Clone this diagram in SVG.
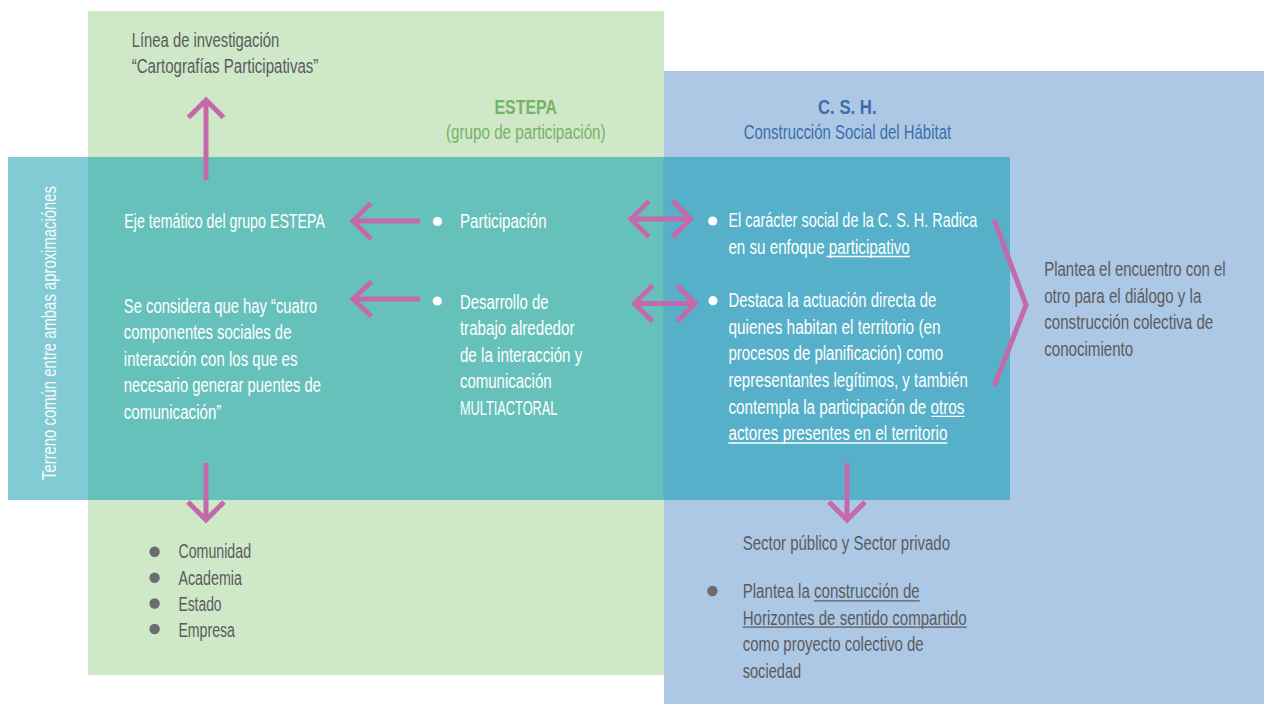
<svg xmlns="http://www.w3.org/2000/svg" width="1264" height="704" viewBox="0 0 1264 704">
<style>
text{font-family:"Liberation Sans Narrow","Liberation Sans",Arial,sans-serif;font-size:19.5px}
.w{fill:#ffffff}
.g{fill:#5a5b5e}
.hg{fill:#76b268}
.hb{fill:#3c6eaa}
.b{font-weight:bold;font-size:21px}
.arr{fill:none;stroke:#c36aac;stroke-width:5;stroke-linejoin:miter}
.ulw{stroke:#ffffff;stroke-width:1.3}
.ulg{stroke:#5a5b5e;stroke-width:1.3}
</style>
<rect width="1264" height="704" fill="#ffffff"/>
<g id="estepa-region">
<rect x="88" y="11" width="576" height="664" fill="#cfe8c7"/>
<text class="hg b" x="494.5" y="114" textLength="62.4" lengthAdjust="spacingAndGlyphs">ESTEPA</text>
<text class="hg" x="446" y="139" textLength="159.6" lengthAdjust="spacingAndGlyphs">(grupo de participación)</text>
</g>
<g id="csh-region">
<rect x="664" y="71" width="600" height="633" fill="#adc8e5"/>
<text class="hb b" x="818" y="114" textLength="58.6" lengthAdjust="spacingAndGlyphs">C. S. H.</text>
<text class="hb" x="743.7" y="139" textLength="207.4" lengthAdjust="spacingAndGlyphs">Construcción Social del Hábitat</text>
</g>
<g id="common-band">
<rect x="8" y="157" width="80" height="343" fill="#82cbd5"/>
<rect x="88" y="157" width="576" height="343" fill="#67c1bb"/>
<rect x="664" y="157" width="346" height="343" fill="#57b0c9"/>
<line x1="664" y1="157" x2="664" y2="500" stroke="#5aa9b3" stroke-width="1"/>
<text class="w" transform="translate(56,480) rotate(-90)" x="0" y="0" textLength="294" lengthAdjust="spacingAndGlyphs" fill-opacity="0.95">Terreno común entre ambas aproximaciónes</text>
</g>
<g id="linea-investigacion">
<text class="g" x="131.7" y="46.5" textLength="147.6" lengthAdjust="spacingAndGlyphs">Línea de investigación</text>
<text class="g" x="131.7" y="73" textLength="186.7" lengthAdjust="spacingAndGlyphs">“Cartografías Participativas”</text>
</g>
<g id="eje-tematico">
<text class="w" x="124.3" y="228" textLength="200.7" lengthAdjust="spacingAndGlyphs">Eje temático del grupo ESTEPA</text>
</g>
<g id="cuatro-componentes">
<text class="w" x="123.8" y="312.5" textLength="193.3" lengthAdjust="spacingAndGlyphs">Se considera que hay “cuatro</text>
<text class="w" x="123.8" y="339" textLength="167.6" lengthAdjust="spacingAndGlyphs">componentes sociales de</text>
<text class="w" x="123.8" y="365.7" textLength="173.6" lengthAdjust="spacingAndGlyphs">interacción con los que es</text>
<text class="w" x="123.8" y="392.3" textLength="197.3" lengthAdjust="spacingAndGlyphs">necesario generar puentes de</text>
<text class="w" x="123.8" y="419" textLength="97.6" lengthAdjust="spacingAndGlyphs">comunicación”</text>
</g>
<g id="participacion">
<circle cx="437.5" cy="221.5" r="4.6" fill="#ffffff"/>
<text class="w" x="460" y="227.5" textLength="86.6" lengthAdjust="spacingAndGlyphs">Participación</text>
</g>
<g id="desarrollo">
<circle cx="437.3" cy="301" r="4.6" fill="#ffffff"/>
<text class="w" x="459.9" y="308.5" textLength="88.6" lengthAdjust="spacingAndGlyphs">Desarrollo de</text>
<text class="w" x="459.9" y="335" textLength="114.6" lengthAdjust="spacingAndGlyphs">trabajo alrededor</text>
<text class="w" x="459.9" y="361.7" textLength="122.5" lengthAdjust="spacingAndGlyphs">de la interacción y</text>
<text class="w" x="459.9" y="388.3" textLength="91.7" lengthAdjust="spacingAndGlyphs">comunicación</text>
<text class="w" x="459.9" y="415" textLength="97.6" lengthAdjust="spacingAndGlyphs">MULTIACTORAL</text>
</g>
<g id="caracter-social">
<circle cx="712.7" cy="221" r="4.6" fill="#ffffff"/>
<text class="w" x="728.4" y="227.3" textLength="248.8" lengthAdjust="spacingAndGlyphs">El carácter social de la C. S. H. Radica</text>
<text class="w" x="728.4" y="254" textLength="181.4" lengthAdjust="spacingAndGlyphs">en su enfoque participativo</text>
<line class="ulw" x1="826.4" y1="256.5" x2="909.8" y2="256.5"/>
</g>
<g id="actuacion-directa">
<circle cx="713" cy="300.7" r="4.6" fill="#ffffff"/>
<text class="w" x="728.4" y="307" textLength="207.8" lengthAdjust="spacingAndGlyphs">Destaca la actuación directa de</text>
<text class="w" x="728.4" y="333.7" textLength="212.3" lengthAdjust="spacingAndGlyphs">quienes habitan el territorio (en</text>
<text class="w" x="728.4" y="360.3" textLength="214.6" lengthAdjust="spacingAndGlyphs">procesos de planificación) como</text>
<text class="w" x="728.4" y="387" textLength="239.5" lengthAdjust="spacingAndGlyphs">representantes legítimos, y también</text>
<text class="w" x="728.4" y="413.7" textLength="236.1" lengthAdjust="spacingAndGlyphs">contempla la participación de otros</text>
<text class="w" x="728.4" y="440.3" textLength="219" lengthAdjust="spacingAndGlyphs">actores presentes en el territorio</text>
<line class="ulw" x1="931.4" y1="416.3" x2="964.5" y2="416.3"/>
<line class="ulw" x1="728.4" y1="443" x2="947.4" y2="443"/>
</g>
<g id="encuentro">
<text class="g" x="1044.2" y="276" textLength="181.4" lengthAdjust="spacingAndGlyphs">Plantea el encuentro con el</text>
<text class="g" x="1044.2" y="302.7" textLength="157.2" lengthAdjust="spacingAndGlyphs">otro para el diálogo y la</text>
<text class="g" x="1044.2" y="329.3" textLength="169.1" lengthAdjust="spacingAndGlyphs">construcción colectiva de</text>
<text class="g" x="1044.2" y="356" textLength="89" lengthAdjust="spacingAndGlyphs">conocimiento</text>
</g>
<g id="componentes-lista">
<circle cx="154.6" cy="551.7" r="5.2" fill="#6c6c70"/>
<circle cx="154.6" cy="577.7" r="5.2" fill="#6c6c70"/>
<circle cx="154.6" cy="603.5" r="5.2" fill="#6c6c70"/>
<circle cx="154.6" cy="629" r="5.2" fill="#6c6c70"/>
<text class="g" x="178.4" y="558.3" textLength="72.7" lengthAdjust="spacingAndGlyphs">Comunidad</text>
<text class="g" x="178.4" y="584.7" textLength="63.5" lengthAdjust="spacingAndGlyphs">Academia</text>
<text class="g" x="178.4" y="611" textLength="43.2" lengthAdjust="spacingAndGlyphs">Estado</text>
<text class="g" x="178.4" y="637.3" textLength="56.6" lengthAdjust="spacingAndGlyphs">Empresa</text>
</g>
<g id="sectores">
<text class="g" x="742.7" y="550" textLength="207.3" lengthAdjust="spacingAndGlyphs">Sector público y Sector privado</text>
</g>
<g id="horizontes">
<circle cx="712.4" cy="591" r="5.2" fill="#6c6c70"/>
<text class="g" x="742.7" y="598.3" textLength="177" lengthAdjust="spacingAndGlyphs">Plantea la construcción de</text>
<text class="g" x="742.7" y="624.7" textLength="224" lengthAdjust="spacingAndGlyphs">Horizontes de sentido compartido</text>
<text class="g" x="742.7" y="651.2" textLength="181" lengthAdjust="spacingAndGlyphs">como proyecto colectivo de</text>
<text class="g" x="742.7" y="677.7" textLength="58.5" lengthAdjust="spacingAndGlyphs">sociedad</text>
<line class="ulg" x1="813.9" y1="600.8" x2="919.7" y2="600.8"/>
<line class="ulg" x1="742.7" y1="627.2" x2="966.7" y2="627.2"/>
</g>
<g id="connectors">
<path class="arr" d="M206,180 V100 M188.5,117.5 L206,100 L223.5,117.5"/>
<path class="arr" d="M420,221 H353 M371,203 L353,221 L371,239"/>
<path class="arr" d="M420,299 H353 M371.5,281.5 L353,299 L371.5,316.5"/>
<path class="arr" d="M629,219 H693 M649,201 L631,219 L649,237 M672.5,201 L690.5,219 L672.5,237"/>
<path class="arr" d="M633,303.5 H697 M652.5,285.5 L634.5,303.5 L652.5,321.5 M677,285.5 L695,303.5 L677,321.5"/>
<path class="arr" d="M206,463 V520 M188,502 L206,520 L224,502"/>
<path class="arr" d="M847,463 V520 M829,502 L847,520 L865,502"/>
<path class="arr" d="M995,222 L1026,305 L995,384" stroke-linecap="round"/>
</g>
</svg>
